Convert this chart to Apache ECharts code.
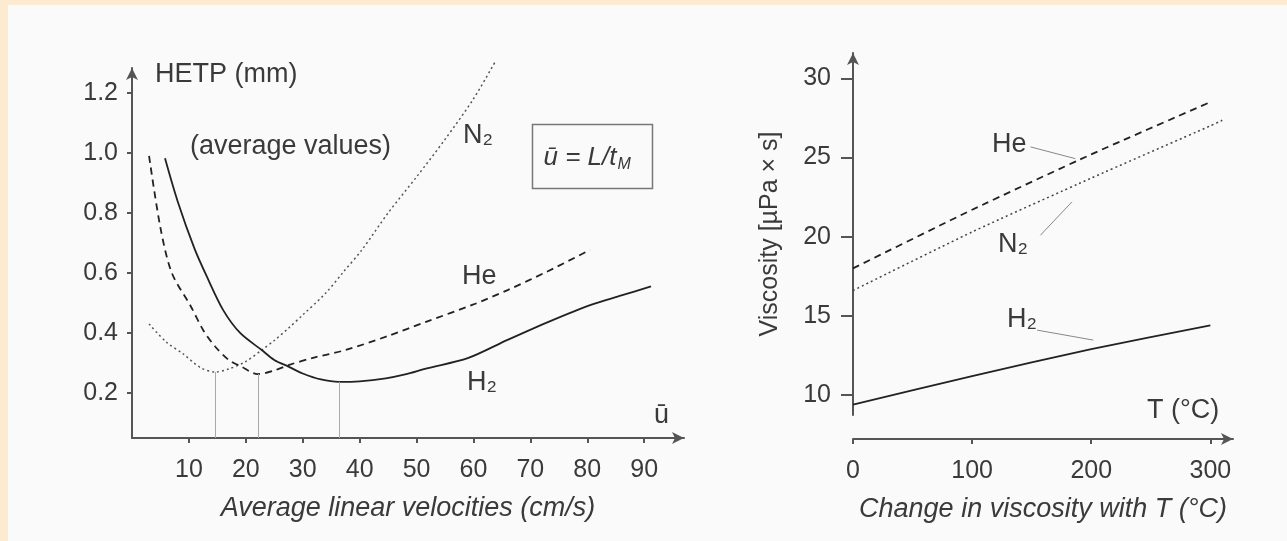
<!DOCTYPE html>
<html>
<head>
<meta charset="utf-8">
<script src="https://cdn.jsdelivr.net/npm/echarts@6/dist/echarts.min.js"></script>
<style>
  html, body { margin: 0; padding: 0; background: #fafafa; }
  #main { width: 1287px; height: 541px; }
</style>
</head>
<body>
<div id="main"></div>
<script>
// left panel: HETP vs average linear velocity
var hetpXTicks = [10, 20, 30, 40, 50, 60, 70, 80, 90];
var hetpYTicks = [0.2, 0.4, 0.6, 0.8, 1.0, 1.2];
var hetpN2 = [[3, 0.43], [6, 0.37], [9, 0.33], [12, 0.285], [14.6, 0.27], [17, 0.28], [20, 0.305], [22.8, 0.343], [25, 0.375], [27.5, 0.416], [30, 0.46], [34, 0.532], [37, 0.6], [40.4, 0.677], [45, 0.8], [50, 0.92], [55, 1.045], [60, 1.18], [64, 1.31]];
var hetpHe = [[3, 0.99], [5, 0.75], [7, 0.6], [10.3, 0.49], [12.5, 0.41], [14.6, 0.355], [17, 0.31], [19, 0.29], [22.1, 0.263], [25, 0.275], [27.5, 0.293], [32, 0.318], [37.5, 0.343], [45, 0.39], [51.8, 0.438], [60, 0.495], [66, 0.543], [73, 0.605], [80.5, 0.677]];
var hetpH2 = [[5.8, 0.982], [8, 0.84], [11, 0.68], [13.1, 0.59], [16, 0.477], [19, 0.4], [22.8, 0.343], [25, 0.31], [27.5, 0.288], [30, 0.265], [33.2, 0.245], [36.4, 0.237], [40, 0.239], [44.6, 0.249], [48, 0.262], [51.8, 0.282], [59, 0.316], [66, 0.377], [73.3, 0.438], [80.5, 0.493], [86, 0.525], [91.2, 0.555]];
var hetpMinima = [[14.6, 0.27], [22.1, 0.263], [36.4, 0.237]];

// right panel: viscosity vs temperature
var viscXTicks = [0, 100, 200, 300];
var viscYTicks = [10, 15, 20, 25, 30];
var viscT = [0, 100, 200, 300];
var viscHe = [18.0, 21.7, 25.2, 28.5];
var viscN2 = [16.6, 20.3, 23.7, 27.0];
var viscH2 = [9.4, 11.2, 12.9, 14.4];

var ink = '#222';
var axisInk = '#555';
var textInk = '#3a3a3a';
var font = 'Liberation Sans';
var tickSize = 25;
var textSize = 27;

function pairs(xs, ys) {
  return xs.map(function (x, i) { return [x, ys[i]]; });
}

var myChart = echarts.init(document.getElementById('main'));

var option = {
  backgroundColor: '#fafafa',
  animation: false,
  textStyle: { fontFamily: font },
  grid: [
    { left: 132, top: 68, width: 552, height: 370 },
    { left: 853, top: 53, width: 380, height: 362 }
  ],
  xAxis: [
    {
      gridIndex: 0, type: 'value', min: 0, max: 97,
      name: 'Average linear velocities (cm/s)', nameLocation: 'middle', nameGap: 57,
      nameTextStyle: { fontStyle: 'italic', fontSize: textSize, color: textInk },
      axisLine: { lineStyle: { color: axisInk, width: 2 }, symbol: ['none', 'arrow'], symbolSize: [9, 12] },
      axisTick: { customValues: hetpXTicks, length: 5, lineStyle: { color: axisInk, width: 2 } },
      axisLabel: { customValues: hetpXTicks, margin: 20, fontSize: tickSize, color: textInk },
      splitLine: { show: false }
    },
    {
      gridIndex: 1, type: 'value', min: 0, max: 319, offset: 24,
      name: 'Change in viscosity with T (°C)', nameLocation: 'middle', nameGap: 57,
      nameTextStyle: { fontStyle: 'italic', fontSize: textSize, color: textInk },
      axisLine: { lineStyle: { color: axisInk, width: 2 }, symbol: ['none', 'arrow'], symbolSize: [9, 12] },
      axisTick: { customValues: viscXTicks, length: 5, lineStyle: { color: axisInk, width: 2 } },
      axisLabel: { customValues: viscXTicks, margin: 20, fontSize: tickSize, color: textInk },
      splitLine: { show: false }
    }
  ],
  yAxis: [
    {
      gridIndex: 0, type: 'value', min: 0.05, max: 1.283,
      name: 'HETP (mm)', nameLocation: 'end', nameGap: -7,
      nameTextStyle: { align: 'left', verticalAlign: 'middle', fontSize: textSize, color: textInk, padding: [0, 0, 0, 23] },
      axisLine: { lineStyle: { color: axisInk, width: 2 }, symbol: ['none', 'arrow'], symbolSize: [9, 12] },
      axisTick: { customValues: hetpYTicks, length: 5, lineStyle: { color: axisInk, width: 2 } },
      axisLabel: {
        customValues: hetpYTicks, margin: 14, fontSize: tickSize, color: textInk,
        formatter: function (v) { return v.toFixed(1); }
      },
      splitLine: { show: false }
    },
    {
      gridIndex: 1, type: 'value', min: 8.74, max: 31.6,
      name: 'Viscosity [µPa × s]', nameLocation: 'middle', nameGap: 70,
      nameTextStyle: { fontSize: 25, color: textInk },
      axisLine: { lineStyle: { color: axisInk, width: 2 }, symbol: ['none', 'arrow'], symbolSize: [9, 12] },
      axisTick: { customValues: viscYTicks, length: 12, lineStyle: { color: axisInk, width: 2 } },
      axisLabel: { customValues: viscYTicks, margin: 22, fontSize: tickSize, color: textInk },
      splitLine: { show: false }
    }
  ],
  series: [
    {
      name: 'N2', type: 'line', xAxisIndex: 0, yAxisIndex: 0, data: hetpN2,
      smooth: 0.3, showSymbol: false, clip: false,
      lineStyle: { color: '#555', width: 1.5, type: [2, 3] }
    },
    {
      name: 'He', type: 'line', xAxisIndex: 0, yAxisIndex: 0, data: hetpHe,
      smooth: 0.3, showSymbol: false, clip: false,
      lineStyle: { color: ink, width: 1.8, type: [7, 5] }
    },
    {
      name: 'H2', type: 'line', xAxisIndex: 0, yAxisIndex: 0, data: hetpH2,
      smooth: 0.3, showSymbol: false, clip: false,
      lineStyle: { color: ink, width: 1.8 },
      markLine: {
        silent: true, symbol: 'none', label: { show: false },
        lineStyle: { color: '#aaa', width: 1, type: 'solid' },
        data: hetpMinima.map(function (p) {
          return [{ coord: [p[0], 0.05] }, { coord: [p[0], p[1]] }];
        })
      }
    },
    {
      name: 'He visc', type: 'line', xAxisIndex: 1, yAxisIndex: 1, data: pairs(viscT, viscHe),
      smooth: 0.2, showSymbol: false,
      lineStyle: { color: ink, width: 1.8, type: [7, 5] },
      markLine: {
        silent: true, symbol: 'none', label: { show: false },
        lineStyle: { color: '#888', width: 1, type: 'solid' },
        data: [[{ coord: [149, 25.67] }, { coord: [186.6, 24.93] }]]
      }
    },
    {
      name: 'N2 visc', type: 'line', xAxisIndex: 1, yAxisIndex: 1, data: pairs(viscT, viscN2).concat([[310, 27.35]]),
      smooth: 0.2, showSymbol: false, clip: false,
      lineStyle: { color: '#444', width: 1.5, type: [2, 3] },
      markLine: {
        silent: true, symbol: 'none', label: { show: false },
        lineStyle: { color: '#888', width: 1, type: 'solid' },
        data: [[{ coord: [157.3, 20.09] }, { coord: [183.8, 22.2] }]]
      }
    },
    {
      name: 'H2 visc', type: 'line', xAxisIndex: 1, yAxisIndex: 1, data: pairs(viscT, viscH2),
      smooth: 0.2, showSymbol: false,
      lineStyle: { color: ink, width: 1.8 },
      markLine: {
        silent: true, symbol: 'none', label: { show: false },
        lineStyle: { color: '#888', width: 1, type: 'solid' },
        data: [[{ coord: [154.6, 14.1] }, { coord: [201.7, 13.47] }]]
      }
    }
  ],
  graphic: [
    // peach page edge
    { type: 'rect', left: 0, top: 0, shape: { width: 1287, height: 5 }, style: { fill: '#fcebd0' } },
    { type: 'rect', left: 0, top: 0, shape: { width: 8, height: 541 }, style: { fill: '#fcebd0' } },
    // left panel annotations
    { type: 'text', left: 190, top: 133, style: { text: '(average values)', font: textSize + 'px Liberation Sans', fill: textInk } },
    { type: 'text', left: 463, top: 122, style: { text: 'N₂', font: textSize + 'px Liberation Sans', fill: textInk } },
    { type: 'text', left: 462, top: 263, style: { text: 'He', font: textSize + 'px Liberation Sans', fill: textInk } },
    { type: 'text', left: 467, top: 369, style: { text: 'H₂', font: textSize + 'px Liberation Sans', fill: textInk } },
    { type: 'text', left: 654, top: 402, style: { text: 'ū', font: textSize + 'px Liberation Sans', fill: textInk } },
    {
      type: 'group', left: 530, top: 122,
      children: [
        { type: 'rect', shape: { width: 120, height: 64 }, style: { fill: 'none', stroke: '#777', lineWidth: 1.5 } },
        {
          type: 'text', left: 11, top: 20,
          style: {
            text: '{a|ū = L/t}{s|M}',
            rich: {
              a: { fontFamily: font, fontStyle: 'italic', fontSize: 26, fill: textInk },
              s: { fontFamily: font, fontStyle: 'italic', fontSize: 16, fill: textInk, padding: [14, 0, 0, 1] }
            }
          }
        }
      ]
    },
    // right panel annotations
    { type: 'text', left: 992, top: 131, style: { text: 'He', font: textSize + 'px Liberation Sans', fill: textInk } },
    { type: 'text', left: 998, top: 231, style: { text: 'N₂', font: textSize + 'px Liberation Sans', fill: textInk } },
    { type: 'text', left: 1007, top: 306, style: { text: 'H₂', font: textSize + 'px Liberation Sans', fill: textInk } },
    { type: 'text', left: 1147, top: 397, style: { text: 'T (°C)', font: textSize + 'px Liberation Sans', fill: textInk } }
  ]
};

myChart.setOption(option);
</script>
</body>
</html>
